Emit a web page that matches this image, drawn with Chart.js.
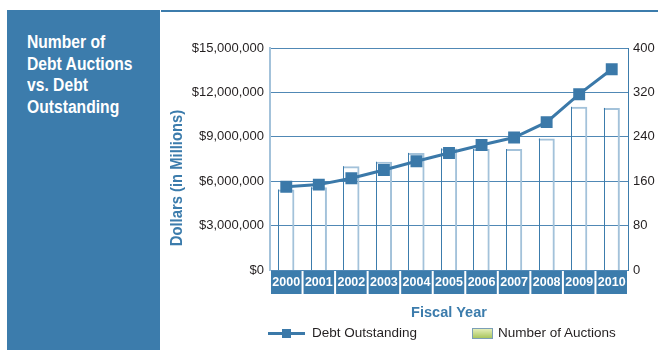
<!DOCTYPE html>
<html>
<head>
<meta charset="utf-8">
<script src="https://cdn.jsdelivr.net/npm/chart.js@4.4.0/dist/chart.umd.min.js"></script>
<style>
  body {
    margin: 0;
    width: 658px;
    height: 350px;
    background: #fff;
    position: relative;
    overflow: hidden;
    font-family: "Liberation Sans", Arial, sans-serif;
  }
  #side {
    position: absolute;
    left: 7px;
    top: 10px;
    width: 153px;
    height: 340px;
    background: #3c7cac;
  }
  #side h1 {
    margin: 0;
    position: absolute;
    left: 20px;
    top: 22px;
    color: #fff;
    font-size: 18px;
    line-height: 21.5px;
    font-weight: bold;
    white-space: nowrap;
    transform: scaleX(0.87);
    transform-origin: 0 0;
  }
  #wrap {
    position: absolute;
    left: 161px;
    top: 10px;
    width: 497px;
    height: 340px;
    border-top: 2px solid #3c7cac;
    box-sizing: border-box;
  }
  .item {
    position: absolute;
    top: 325px;
    height: 16px;
    line-height: 16px;
    font-size: 13.5px;
    color: #231f20;
    white-space: nowrap;
  }
  .sym-line {
    display: inline-block;
    position: relative;
    width: 37px;
    height: 3px;
    background: #3b79a9;
    vertical-align: middle;
    margin-right: 7px;
  }
  .sym-line i {
    position: absolute;
    left: 14px;
    top: -3px;
    width: 9px;
    height: 9px;
    background: #3b79a9;
  }
  .sym-box {
    display: inline-block;
    width: 19px;
    height: 9px;
    border: 1px solid #7c9fb6;
    background: linear-gradient(#e4eeb8, #a9c65e);
    vertical-align: middle;
    margin-right: 5px;
  }
</style>
</head>
<body>
<div id="side"><h1>Number of<br>Debt Auctions<br>vs. Debt<br>Outstanding</h1></div>
<div id="wrap"><canvas id="chart" width="497" height="338"></canvas></div>
<div class="item" id="leg-line" style="left:268px"></div>
<div class="item" id="leg-bar" style="left:472px"></div>
<script>
const years = ["2000", "2001", "2002", "2003", "2004", "2005", "2006", "2007", "2008", "2009", "2010"];
// debt outstanding, dollars in millions (left axis)
const debtOutstanding = [5630000, 5770000, 6200000, 6760000, 7350000, 7910000, 8450000, 8950000, 9990000, 11880000, 13560000];
// auctions held per fiscal year (right axis)
const auctionCount = [145, 149, 187, 195, 211, 219, 218, 218, 237, 294, 292];
const dollarTicks = [0, 3000000, 6000000, 9000000, 12000000, 15000000];
const countTicks = [0, 80, 160, 240, 320, 400];

const BLUE = "#3c7cac";
const LIGHT = "#a3c2da";
const FONT = '"Liberation Sans", Arial, sans-serif';

// blue year strip under the plot
const yearBand = {
  id: "yearBand",
  beforeDraw(chart) {
    const { ctx, chartArea } = chart;
    const x = chart.scales.x;
    const step = x.width / years.length;
    ctx.save();
    ctx.fillStyle = BLUE;
    years.forEach((y, i) => {
      const c = x.getPixelForTick(i);
      ctx.fillRect(c - step / 2 + 1, chartArea.bottom + 1, step - 2, 23);
    });
    ctx.restore();
  },
};

// dark left edge on each auction bar
const barEdge = {
  id: "barEdge",
  afterDatasetDraw(chart, args) {
    if (args.index !== 1) return;
    const ctx = chart.ctx;
    ctx.save();
    ctx.strokeStyle = BLUE;
    ctx.lineWidth = 1;
    args.meta.data.forEach((bar) => {
      const l = Math.round(bar.x - bar.width / 2) + 0.5;
      ctx.beginPath();
      ctx.moveTo(l, bar.y);
      ctx.lineTo(l, bar.base);
      ctx.stroke();
    });
    ctx.restore();
  },
};

// rotated, condensed left axis caption
const leftCaption = {
  id: "leftCaption",
  afterDraw(chart) {
    const { ctx, chartArea } = chart;
    ctx.save();
    ctx.translate(chartArea.left - 93, chartArea.bottom - 92);
    ctx.rotate(-Math.PI / 2);
    ctx.scale(0.87, 1);
    ctx.font = "bold 17px " + FONT;
    ctx.fillStyle = BLUE;
    ctx.textAlign = "center";
    ctx.textBaseline = "middle";
    ctx.fillText("Dollars (in Millions)", 0, 0);
    ctx.restore();
  },
};

const chart = new Chart(document.getElementById("chart"), {
  data: {
    labels: years,
    datasets: [
      {
        type: "line",
        label: "Debt Outstanding",
        data: debtOutstanding,
        yAxisID: "y",
        borderColor: "#3b79a9",
        backgroundColor: "#3b79a9",
        borderWidth: 3,
        pointStyle: "rect",
        pointRadius: 6.3,
        tension: 0,
        order: 1,
      },
      {
        type: "bar",
        label: "Number of Auctions",
        data: auctionCount,
        yAxisID: "y1",
        backgroundColor: "rgba(255,255,255,0)",
        borderColor: LIGHT,
        borderWidth: { top: 2, right: 2, left: 0, bottom: 0 },
        borderSkipped: false,
        barPercentage: 0.5,
        categoryPercentage: 1,
        order: 2,
      },
    ],
  },
  options: {
    responsive: false,
    animation: false,
    layout: { padding: { top: 36, left: 0, right: 0, bottom: 0 } },
    plugins: {
      legend: { display: false },
      tooltip: { enabled: false },
    },
    scales: {
      x: {
        offset: true,
        grid: { display: false, drawTicks: false },
        border: { display: false },
        ticks: { color: "#fff", padding: 5, maxRotation: 0, font: { family: FONT, size: 12.5, weight: "bold" } },
        title: {
          display: true,
          text: "Fiscal Year",
          color: BLUE,
          font: { family: FONT, size: 14.5, weight: "bold" },
          padding: { top: 4, bottom: 28 },
        },
        afterFit(s) { s.height = 80; },
      },
      y: {
        position: "left",
        min: 0,
        max: 15000000,
        afterBuildTicks(s) { s.ticks = dollarTicks.map((v) => ({ value: v })); },
        ticks: {
          color: "#231f20",
          padding: 6,
          font: { family: FONT, size: 13 },
          callback: (v) => "$" + v.toLocaleString("en-US"),
        },
        grid: { color: "#5088b5", lineWidth: 1, drawTicks: false },
        border: { color: LIGHT, width: 2 },
        afterFit(s) { s.width = 109; },
      },
      y1: {
        position: "right",
        min: 0,
        max: 400,
        afterBuildTicks(s) { s.ticks = countTicks.map((v) => ({ value: v })); },
        ticks: { color: "#231f20", padding: 5, font: { family: FONT, size: 13 } },
        grid: { display: false, drawTicks: false },
        border: { color: BLUE, width: 1 },
        afterFit(s) { s.width = 30; },
      },
    },
  },
  plugins: [yearBand, barEdge, leftCaption],
});

// legend entries
const ds = chart.data.datasets;
document.getElementById("leg-line").innerHTML = '<span class="sym-line"><i></i></span>' + ds[0].label;
document.getElementById("leg-bar").innerHTML = '<span class="sym-box"></span>' + ds[1].label;
</script>
</body>
</html>
